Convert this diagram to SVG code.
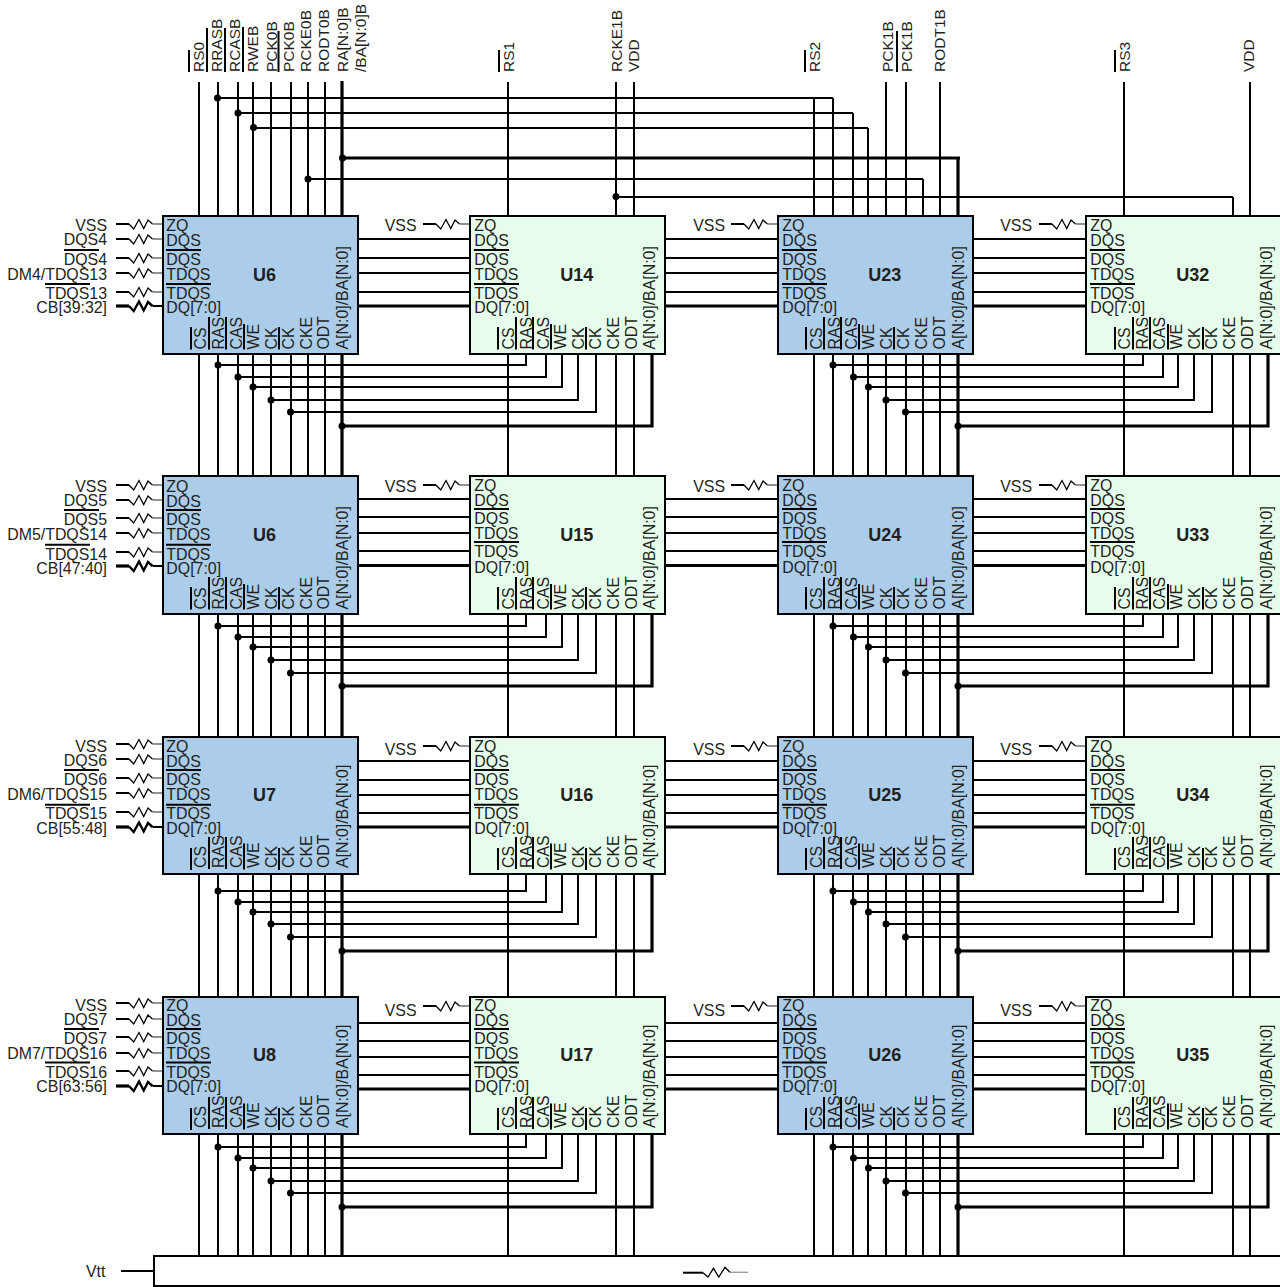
<svg xmlns="http://www.w3.org/2000/svg" xmlns:xlink="http://www.w3.org/1999/xlink" width="1280" height="1287" viewBox="0 0 1280 1287">
<style>
text{font-family:"Liberation Sans",Arial,sans-serif;font-size:15.9px;fill:#231f20}
.top text{font-size:15.5px}
.u{font-weight:bold;font-size:18px;text-anchor:middle}
.e{text-anchor:end}
.w,.k,.o,.z,.g{fill:none;stroke:#000}
.w{stroke-width:2}
.k{stroke-width:3.2}
.o{stroke-width:2}
.z{stroke-width:1.3}
.g{stroke:#555;stroke-width:1.3}
.blue{fill:#abcde9;stroke:#000;stroke-width:2}
.green{fill:#e5fdea;stroke:#000;stroke-width:2}
.vtt{fill:#fff;stroke:#000;stroke-width:2}
.d{fill:#000}
</style>
<defs>
<g id="res"><path class="w" d="M-47 0H-34"/><path class="z" d="M-34 0l4.7 5 5.300-9.500 4.700 9 4.300-8.500 4.500 4"/><path class="g" d="M-10.500 0H0"/></g>
<g id="resb"><path class="k" d="M-47 0H-34"/><path class="z" style="stroke-width:2.400" d="M-34 0l4.700 5 5.300-9.500 4.700 9 4.300-8.500 4.500 4"/><path class="w" d="M-10.500 0H0"/></g>
</defs>
<g id="connectors">
<path class="w" d="M199 82V1256M218 82V1256M238 82V1256M253 82V1256M271 82V1256M291 82V1256M308 82V1256M325 82V1256M508 82V1256M616 82V1256M634 82V1256M814 98V1256M833 98V1256M853 113V1256M868 128V1256M886 82V1256M906 82V1256M923 179V1256M940 82V1256M1124 82V1256M1233 197V1256M1250 82V1256"/>
<path class="k" d="M342 81V1256M958 157V1256M342 158H960"/>
<path class="w" d="M218 98H833M238 113H853M253 128H868M308 179H923M616 197H1233"/>
<path class="w" d="M358 239H1086M358 258H1086M358 273H1086M358 292H1086M358 499H1086M358 517H1086M358 533H1086M358 551H1086M358 761H1086M358 780H1086M358 795H1086M358 813H1086M358 1023H1086M358 1041H1086M358 1057H1086M358 1075H1086"/>
<path class="k" d="M358 306H1086M358 565.500H1086M358 827H1086M358 1089H1086"/>
<path class="w" d="M218 365H526V354M238 377H546V354M253 387H562V354M271 400H578V354M291 412H596V354M833 365H1143V354M853 377H1163V354M868 387H1178V354M886 400H1194V354M906 412H1212V354"/>
<path class="k" d="M342 426H652V354M958 426H1268V354"/>
<path class="w" d="M218 626H526V614M238 637H546V614M253 647H562V614M271 660H578V614M291 673H596V614M833 626H1143V614M853 637H1163V614M868 647H1178V614M886 660H1194V614M906 673H1212V614"/>
<path class="k" d="M342 686H652V614M958 686H1268V614"/>
<path class="w" d="M218 891H526V874M238 902H546V874M253 912H562V874M271 924H578V874M291 937H596V874M833 891H1143V874M853 902H1163V874M868 912H1178V874M886 924H1194V874M906 937H1212V874"/>
<path class="k" d="M342 951H652V874M958 951H1268V874"/>
<path class="w" d="M218 1147H526V1134M238 1158H546V1134M253 1168H562V1134M271 1181H578V1134M291 1193H596V1134M833 1147H1143V1134M853 1158H1163V1134M868 1168H1178V1134M886 1181H1194V1134M906 1193H1212V1134"/>
<path class="k" d="M342 1207H652V1134M958 1207H1268V1134"/>
<path class="w" d="M121 1271H154"/>
<g class="d">
<circle cx="217.500" cy="98" r="3.500"/><circle cx="238" cy="113" r="3.500"/><circle cx="253.500" cy="127.500" r="3.500"/><circle cx="342.500" cy="158" r="3.500"/><circle cx="308" cy="179" r="3.500"/><circle cx="616" cy="196.500" r="3.500"/>
<circle cx="218" cy="365" r="3.500"/><circle cx="238" cy="377" r="3.500"/><circle cx="253" cy="387" r="3.500"/><circle cx="271" cy="400" r="3.500"/><circle cx="290.500" cy="412" r="3.500"/><circle cx="342" cy="426" r="3.500"/>
<circle cx="833" cy="365" r="3.500"/><circle cx="853.500" cy="377" r="3.500"/><circle cx="868.500" cy="387" r="3.500"/><circle cx="886" cy="400" r="3.500"/><circle cx="905.500" cy="412" r="3.500"/><circle cx="958" cy="426" r="3.500"/>
<circle cx="218" cy="626" r="3.500"/><circle cx="238" cy="637" r="3.500"/><circle cx="253" cy="647" r="3.500"/><circle cx="271" cy="660" r="3.500"/><circle cx="290.500" cy="673" r="3.500"/><circle cx="342" cy="686" r="3.500"/>
<circle cx="833" cy="626" r="3.500"/><circle cx="853.500" cy="637" r="3.500"/><circle cx="868.500" cy="647" r="3.500"/><circle cx="886" cy="660" r="3.500"/><circle cx="905.500" cy="673" r="3.500"/><circle cx="958" cy="686" r="3.500"/>
<circle cx="218" cy="891" r="3.500"/><circle cx="238" cy="902" r="3.500"/><circle cx="253" cy="912" r="3.500"/><circle cx="271" cy="924" r="3.500"/><circle cx="290.500" cy="937" r="3.500"/><circle cx="342" cy="951" r="3.500"/>
<circle cx="833" cy="891" r="3.500"/><circle cx="853.500" cy="902" r="3.500"/><circle cx="868.500" cy="912" r="3.500"/><circle cx="886" cy="924" r="3.500"/><circle cx="905.500" cy="937" r="3.500"/><circle cx="958" cy="951" r="3.500"/>
<circle cx="218" cy="1147" r="3.500"/><circle cx="238" cy="1158" r="3.500"/><circle cx="253" cy="1168" r="3.500"/><circle cx="271" cy="1181" r="3.500"/><circle cx="290.500" cy="1193" r="3.500"/><circle cx="342" cy="1207" r="3.500"/>
<circle cx="833" cy="1147" r="3.500"/><circle cx="853.500" cy="1158" r="3.500"/><circle cx="868.500" cy="1168" r="3.500"/><circle cx="886" cy="1181" r="3.500"/><circle cx="905.500" cy="1193" r="3.500"/><circle cx="958" cy="1207" r="3.500"/>
</g>
<use href="#res" x="163" y="224"/><use href="#res" x="163" y="239"/><use href="#res" x="163" y="258"/><use href="#res" x="163" y="273"/><use href="#res" x="163" y="292"/><use href="#resb" x="163" y="306"/>
<use href="#res" x="163" y="485"/><use href="#res" x="163" y="500"/><use href="#res" x="163" y="518"/><use href="#res" x="163" y="533"/><use href="#res" x="163" y="552"/><use href="#resb" x="163" y="566"/>
<use href="#res" x="163" y="744"/><use href="#res" x="163" y="759"/><use href="#res" x="163" y="778"/><use href="#res" x="163" y="793"/><use href="#res" x="163" y="812"/><use href="#resb" x="163" y="827"/>
<use href="#res" x="163" y="1003"/><use href="#res" x="163" y="1019"/><use href="#res" x="163" y="1037"/><use href="#res" x="163" y="1053"/><use href="#res" x="163" y="1071"/><use href="#resb" x="163" y="1086"/>
<use href="#res" x="470" y="224"/><use href="#res" x="778" y="224"/><use href="#res" x="1086" y="224"/>
<use href="#res" x="470" y="485"/><use href="#res" x="778" y="485"/><use href="#res" x="1086" y="485"/>
<use href="#res" x="470" y="746"/><use href="#res" x="778" y="746"/><use href="#res" x="1086" y="746"/>
<use href="#res" x="470" y="1006"/><use href="#res" x="778" y="1006"/><use href="#res" x="1086" y="1006"/>
</g>
<g id="labels">
<g class="top" transform="translate(0,72) rotate(-90)"><text y="204">RS0</text><text y="222">RRASB</text><text y="240">RCASB</text><text y="258">RWEB</text><text y="276.500">PCK0B</text><text y="294">PCK0B</text><text y="311">RCKE0B</text><text y="329">RODT0B</text><text y="348">RA[N:0]B</text><text y="366">/BA[N:0]B</text><text y="514">RS1</text><text y="622">RCKE1B</text><text y="639">VDD</text><text y="820">RS2</text><text y="892.500">PCK1B</text><text y="912">PCK1B</text><text y="945">RODT1B</text><text y="1130">RS3</text><text y="1254">VDD</text></g>
<path class="o" d="M189 50V72M207 28V72M225 28V72M243 27V72M278.500 31V72M499 50V72M805 50V72M897 31V72M1115 50V72"/>
<g>
<text class="e" x="107" y="231">VSS</text><text class="e" x="107" y="245">DQS4</text><text class="e" x="107" y="265">DQS4</text><text class="e" x="107" y="279.500">DM4/TDQS13</text><text class="e" x="107" y="299">TDQS13</text><text class="e" x="107" y="313">CB[39:32]</text>
<text class="e" x="107" y="491.700">VSS</text><text class="e" x="107" y="506">DQS5</text><text class="e" x="107" y="525">DQS5</text><text class="e" x="107" y="540">DM5/TDQS14</text><text class="e" x="107" y="560">TDQS14</text><text class="e" x="107" y="574">CB[47:40]</text>
<text class="e" x="107" y="752">VSS</text><text class="e" x="107" y="766">DQS6</text><text class="e" x="107" y="785">DQS6</text><text class="e" x="107" y="800">DM6/TDQS15</text><text class="e" x="107" y="819">TDQS15</text><text class="e" x="107" y="834">CB[55:48]</text>
<text class="e" x="107" y="1010.700">VSS</text><text class="e" x="107" y="1025">DQS7</text><text class="e" x="107" y="1044">DQS7</text><text class="e" x="107" y="1059">DM7/TDQS16</text><text class="e" x="107" y="1078">TDQS16</text><text class="e" x="107" y="1092">CB[63:56]</text>
<text class="e" x="416.500" y="231">VSS</text><text class="e" x="725" y="231">VSS</text><text class="e" x="1032" y="231">VSS</text>
<text class="e" x="416.500" y="491.700">VSS</text><text class="e" x="725" y="491.700">VSS</text><text class="e" x="1032" y="491.700">VSS</text>
<text class="e" x="416.500" y="755">VSS</text><text class="e" x="725" y="755">VSS</text><text class="e" x="1032" y="755">VSS</text>
<text class="e" x="416.500" y="1016">VSS</text><text class="e" x="725" y="1016">VSS</text><text class="e" x="1032" y="1016">VSS</text>
<text x="86" y="1276.700">Vtt</text>
</g>
<path class="o" d="M64 250H99M45 284H90M64 510H99M45 544.700H90M64 770H99M45 804.700H90M64 1029H99M45 1062.500H90"/>
</g>
<g id="U6" transform="translate(163,216)"><rect class="blue" width="195" height="138"/><text x="3.300" y="15">ZQ</text><text x="3.300" y="30">DQS</text><text x="3.300" y="49">DQS</text><text x="3.300" y="63.500">TDQS</text><text x="3.300" y="83">TDQS</text><text x="3.300" y="97">DQ[7:0]</text><text class="u" x="101.500" y="65">U6</text><path class="o" d="M3 34H38M3 68H48M28 133.500v-22.500M46 133.500v-32.500M63 133.500v-32.500M81 133.500v-25.500M116 133.500v-22.500"/><g transform="translate(0,133.500) rotate(-90)"><text y="43">CS</text><text y="61">RAS</text><text y="78.500">CAS</text><text y="96">WE</text><text y="114">CK</text><text y="131">CK</text><text y="149">CKE</text><text y="166">ODT</text><text y="185">A[N:0]/BA[N:0]</text></g></g>
<g id="U14" transform="translate(470,216)"><rect class="green" width="195" height="138"/><text x="4.300" y="15">ZQ</text><text x="4.300" y="30">DQS</text><text x="4.300" y="49">DQS</text><text x="4.300" y="63.500">TDQS</text><text x="4.300" y="83">TDQS</text><text x="4.300" y="97">DQ[7:0]</text><text class="u" x="106.700" y="65">U14</text><path class="o" d="M4 34H39M4 68H49M28 133.500v-22.500M46 133.500v-32.500M63 133.500v-32.500M81 133.500v-25.500M116 133.500v-22.500"/><g transform="translate(0,133.500) rotate(-90)"><text y="43.500">CS</text><text y="61.500">RAS</text><text y="78.500">CAS</text><text y="96">WE</text><text y="113.500">CK</text><text y="131">CK</text><text y="149">CKE</text><text y="166.500">ODT</text><text y="185">A[N:0]/BA[N:0]</text></g></g>
<g id="U23" transform="translate(778,216)"><rect class="blue" width="195" height="138"/><text x="4.300" y="15">ZQ</text><text x="4.300" y="30">DQS</text><text x="4.300" y="49">DQS</text><text x="4.300" y="63.500">TDQS</text><text x="4.300" y="83">TDQS</text><text x="4.300" y="97">DQ[7:0]</text><text class="u" x="106.700" y="65">U23</text><path class="o" d="M4 34H39M4 68H49M28 133.500v-22.500M46 133.500v-32.500M63 133.500v-32.500M81 133.500v-25.500M116 133.500v-22.500"/><g transform="translate(0,133.500) rotate(-90)"><text y="43.500">CS</text><text y="61.500">RAS</text><text y="78.500">CAS</text><text y="96">WE</text><text y="113.500">CK</text><text y="131">CK</text><text y="149">CKE</text><text y="166.500">ODT</text><text y="185.500">A[N:0]/BA[N:0]</text></g></g>
<g id="U32" transform="translate(1086,216)"><rect class="green" width="195" height="138"/><text x="4.300" y="15">ZQ</text><text x="4.300" y="30">DQS</text><text x="4.300" y="49">DQS</text><text x="4.300" y="63.500">TDQS</text><text x="4.300" y="83">TDQS</text><text x="4.300" y="97">DQ[7:0]</text><text class="u" x="106.700" y="65">U32</text><path class="o" d="M4 34H39M4 68H49M29 133.500v-22.500M47 133.500v-32.500M64 133.500v-32.500M82 133.500v-25.500M117 133.500v-22.500"/><g transform="translate(0,133.500) rotate(-90)"><text y="43.500">CS</text><text y="61.500">RAS</text><text y="78.500">CAS</text><text y="96">WE</text><text y="113.500">CK</text><text y="131">CK</text><text y="149">CKE</text><text y="166.500">ODT</text><text y="185.500">A[N:0]/BA[N:0]</text></g></g>
<g id="U6_2" transform="translate(163,476)"><rect class="blue" width="195" height="138"/><text x="3.300" y="15.700">ZQ</text><text x="3.300" y="30.700">DQS</text><text x="3.300" y="49">DQS</text><text x="3.300" y="64">TDQS</text><text x="3.300" y="84">TDQS</text><text x="3.300" y="98">DQ[7:0]</text><text class="u" x="101.500" y="65">U6</text><path class="o" d="M3 34H38M3 68.700H48M28 133.500v-22.500M46 133.500v-32.500M63 133.500v-32.500M81 133.500v-25.500M116 133.500v-22.500"/><g transform="translate(0,133.500) rotate(-90)"><text y="43">CS</text><text y="61">RAS</text><text y="78.500">CAS</text><text y="96">WE</text><text y="114">CK</text><text y="131">CK</text><text y="149">CKE</text><text y="166">ODT</text><text y="185">A[N:0]/BA[N:0]</text></g></g>
<g id="U15" transform="translate(470,476)"><rect class="green" width="195" height="138"/><text x="4.300" y="15">ZQ</text><text x="4.300" y="30">DQS</text><text x="4.300" y="48">DQS</text><text x="4.300" y="63">TDQS</text><text x="4.300" y="81">TDQS</text><text x="4.300" y="97">DQ[7:0]</text><text class="u" x="106.700" y="65">U15</text><path class="o" d="M4 33H39M4 66H49M28 133.500v-22.500M46 133.500v-32.500M63 133.500v-32.500M81 133.500v-25.500M116 133.500v-22.500"/><g transform="translate(0,133.500) rotate(-90)"><text y="43.500">CS</text><text y="61.500">RAS</text><text y="78.500">CAS</text><text y="96">WE</text><text y="113.500">CK</text><text y="131">CK</text><text y="149">CKE</text><text y="166.500">ODT</text><text y="185">A[N:0]/BA[N:0]</text></g></g>
<g id="U24" transform="translate(778,476)"><rect class="blue" width="195" height="138"/><text x="4.300" y="15">ZQ</text><text x="4.300" y="30">DQS</text><text x="4.300" y="48">DQS</text><text x="4.300" y="63">TDQS</text><text x="4.300" y="81">TDQS</text><text x="4.300" y="97">DQ[7:0]</text><text class="u" x="106.700" y="65">U24</text><path class="o" d="M4 33H39M4 66H49M28 133.500v-22.500M46 133.500v-32.500M63 133.500v-32.500M81 133.500v-25.500M116 133.500v-22.500"/><g transform="translate(0,133.500) rotate(-90)"><text y="43.500">CS</text><text y="61.500">RAS</text><text y="78.500">CAS</text><text y="96">WE</text><text y="113.500">CK</text><text y="131">CK</text><text y="149">CKE</text><text y="166.500">ODT</text><text y="185.500">A[N:0]/BA[N:0]</text></g></g>
<g id="U33" transform="translate(1086,476)"><rect class="green" width="195" height="138"/><text x="4.300" y="15">ZQ</text><text x="4.300" y="30">DQS</text><text x="4.300" y="48">DQS</text><text x="4.300" y="63">TDQS</text><text x="4.300" y="81">TDQS</text><text x="4.300" y="97">DQ[7:0]</text><text class="u" x="106.700" y="65">U33</text><path class="o" d="M4 33H39M4 66H49M29 133.500v-22.500M47 133.500v-32.500M64 133.500v-32.500M82 133.500v-25.500M117 133.500v-22.500"/><g transform="translate(0,133.500) rotate(-90)"><text y="43.500">CS</text><text y="61.500">RAS</text><text y="78.500">CAS</text><text y="96">WE</text><text y="113.500">CK</text><text y="131">CK</text><text y="149">CKE</text><text y="166.500">ODT</text><text y="185.500">A[N:0]/BA[N:0]</text></g></g>
<g id="U7" transform="translate(163,737)"><rect class="blue" width="195" height="137"/><text x="3.300" y="15">ZQ</text><text x="3.300" y="30">DQS</text><text x="3.300" y="48">DQS</text><text x="3.300" y="63">TDQS</text><text x="3.300" y="82">TDQS</text><text x="3.300" y="97">DQ[7:0]</text><text class="u" x="101.500" y="64">U7</text><path class="o" d="M3 33H38M3 67.700H48M28 133v-22M46 132v-32M63 132v-32M81 132.500v-26M116 133v-22"/><g transform="translate(0,131) rotate(-90)"><text y="43">CS</text><text y="61">RAS</text><text y="78.500">CAS</text><text y="96">WE</text><text y="114">CK</text><text y="131">CK</text><text y="149">CKE</text><text y="166">ODT</text><text y="185">A[N:0]/BA[N:0]</text></g></g>
<g id="U16" transform="translate(470,737)"><rect class="green" width="195" height="137"/><text x="4.300" y="15">ZQ</text><text x="4.300" y="30">DQS</text><text x="4.300" y="48">DQS</text><text x="4.300" y="63">TDQS</text><text x="4.300" y="82">TDQS</text><text x="4.300" y="97">DQ[7:0]</text><text class="u" x="106.700" y="64">U16</text><path class="o" d="M4 33H39M4 67.700H49M28 133v-22M46 132v-32M63 132v-32M81 132.500v-26M116 133v-22"/><g transform="translate(0,131) rotate(-90)"><text y="43.500">CS</text><text y="61.500">RAS</text><text y="78.500">CAS</text><text y="96">WE</text><text y="113.500">CK</text><text y="131">CK</text><text y="149">CKE</text><text y="166.500">ODT</text><text y="185">A[N:0]/BA[N:0]</text></g></g>
<g id="U25" transform="translate(778,737)"><rect class="blue" width="195" height="137"/><text x="4.300" y="15">ZQ</text><text x="4.300" y="30">DQS</text><text x="4.300" y="48">DQS</text><text x="4.300" y="63">TDQS</text><text x="4.300" y="82">TDQS</text><text x="4.300" y="97">DQ[7:0]</text><text class="u" x="106.700" y="64">U25</text><path class="o" d="M4 33H39M4 67.700H49M28 133v-22M46 132v-32M63 132v-32M81 132.500v-26M116 133v-22"/><g transform="translate(0,131) rotate(-90)"><text y="43.500">CS</text><text y="61.500">RAS</text><text y="78.500">CAS</text><text y="96">WE</text><text y="113.500">CK</text><text y="131">CK</text><text y="149">CKE</text><text y="166.500">ODT</text><text y="185.500">A[N:0]/BA[N:0]</text></g></g>
<g id="U34" transform="translate(1086,737)"><rect class="green" width="195" height="137"/><text x="4.300" y="15">ZQ</text><text x="4.300" y="30">DQS</text><text x="4.300" y="48">DQS</text><text x="4.300" y="63">TDQS</text><text x="4.300" y="82">TDQS</text><text x="4.300" y="97">DQ[7:0]</text><text class="u" x="106.700" y="64">U34</text><path class="o" d="M4 33H39M4 67.700H49M29 133v-22M47 132v-32M64 132v-32M82 132.500v-26M117 133v-22"/><g transform="translate(0,131) rotate(-90)"><text y="43.500">CS</text><text y="61.500">RAS</text><text y="78.500">CAS</text><text y="96">WE</text><text y="113.500">CK</text><text y="131">CK</text><text y="149">CKE</text><text y="166.500">ODT</text><text y="185.500">A[N:0]/BA[N:0]</text></g></g>
<g id="U8" transform="translate(163,997)"><rect class="blue" width="195" height="137"/><text x="3.300" y="14">ZQ</text><text x="3.300" y="29">DQS</text><text x="3.300" y="47">DQS</text><text x="3.300" y="62">TDQS</text><text x="3.300" y="81">TDQS</text><text x="3.300" y="95">DQ[7:0]</text><text class="u" x="101.500" y="64">U8</text><path class="o" d="M3 32H38M3 65.500H48M28 133v-22M46 132v-32M63 132v-32M81 132.500v-26M116 133v-22"/><g transform="translate(0,131) rotate(-90)"><text y="43">CS</text><text y="61">RAS</text><text y="78.500">CAS</text><text y="96">WE</text><text y="114">CK</text><text y="131">CK</text><text y="149">CKE</text><text y="166">ODT</text><text y="185">A[N:0]/BA[N:0]</text></g></g>
<g id="U17" transform="translate(470,997)"><rect class="green" width="195" height="137"/><text x="4.300" y="14">ZQ</text><text x="4.300" y="29">DQS</text><text x="4.300" y="47">DQS</text><text x="4.300" y="62">TDQS</text><text x="4.300" y="81">TDQS</text><text x="4.300" y="95">DQ[7:0]</text><text class="u" x="106.700" y="64">U17</text><path class="o" d="M4 32H39M4 65.500H49M28 133v-22M46 132v-32M63 132v-32M81 132.500v-26M116 133v-22"/><g transform="translate(0,131) rotate(-90)"><text y="43.500">CS</text><text y="61.500">RAS</text><text y="78.500">CAS</text><text y="96">WE</text><text y="113.500">CK</text><text y="131">CK</text><text y="149">CKE</text><text y="166.500">ODT</text><text y="185">A[N:0]/BA[N:0]</text></g></g>
<g id="U26" transform="translate(778,997)"><rect class="blue" width="195" height="137"/><text x="4.300" y="14">ZQ</text><text x="4.300" y="29">DQS</text><text x="4.300" y="47">DQS</text><text x="4.300" y="62">TDQS</text><text x="4.300" y="81">TDQS</text><text x="4.300" y="95">DQ[7:0]</text><text class="u" x="106.700" y="64">U26</text><path class="o" d="M4 32H39M4 65.500H49M28 133v-22M46 132v-32M63 132v-32M81 132.500v-26M116 133v-22"/><g transform="translate(0,131) rotate(-90)"><text y="43.500">CS</text><text y="61.500">RAS</text><text y="78.500">CAS</text><text y="96">WE</text><text y="113.500">CK</text><text y="131">CK</text><text y="149">CKE</text><text y="166.500">ODT</text><text y="185.500">A[N:0]/BA[N:0]</text></g></g>
<g id="U35" transform="translate(1086,997)"><rect class="green" width="195" height="137"/><text x="4.300" y="14">ZQ</text><text x="4.300" y="29">DQS</text><text x="4.300" y="47">DQS</text><text x="4.300" y="62">TDQS</text><text x="4.300" y="81">TDQS</text><text x="4.300" y="95">DQ[7:0]</text><text class="u" x="106.700" y="64">U35</text><path class="o" d="M4 32H39M4 65.500H49M29 133v-22M47 132v-32M64 132v-32M82 132.500v-26M117 133v-22"/><g transform="translate(0,131) rotate(-90)"><text y="43.500">CS</text><text y="61.500">RAS</text><text y="78.500">CAS</text><text y="96">WE</text><text y="113.500">CK</text><text y="131">CK</text><text y="149">CKE</text><text y="166.500">ODT</text><text y="185.500">A[N:0]/BA[N:0]</text></g></g>
<g id="Vtt"><rect class="vtt" x="154" y="1256" width="1130" height="30"/><path class="w" d="M683 1272.700H703"/><path class="z" d="M703 1272.700l5 4.300 5.500-8.700 5.300 8.700 6.200-9.700 5 5"/><path style="fill:none;stroke:#999;stroke-width:1.300" d="M730 1272.300H748"/></g>
</svg>
